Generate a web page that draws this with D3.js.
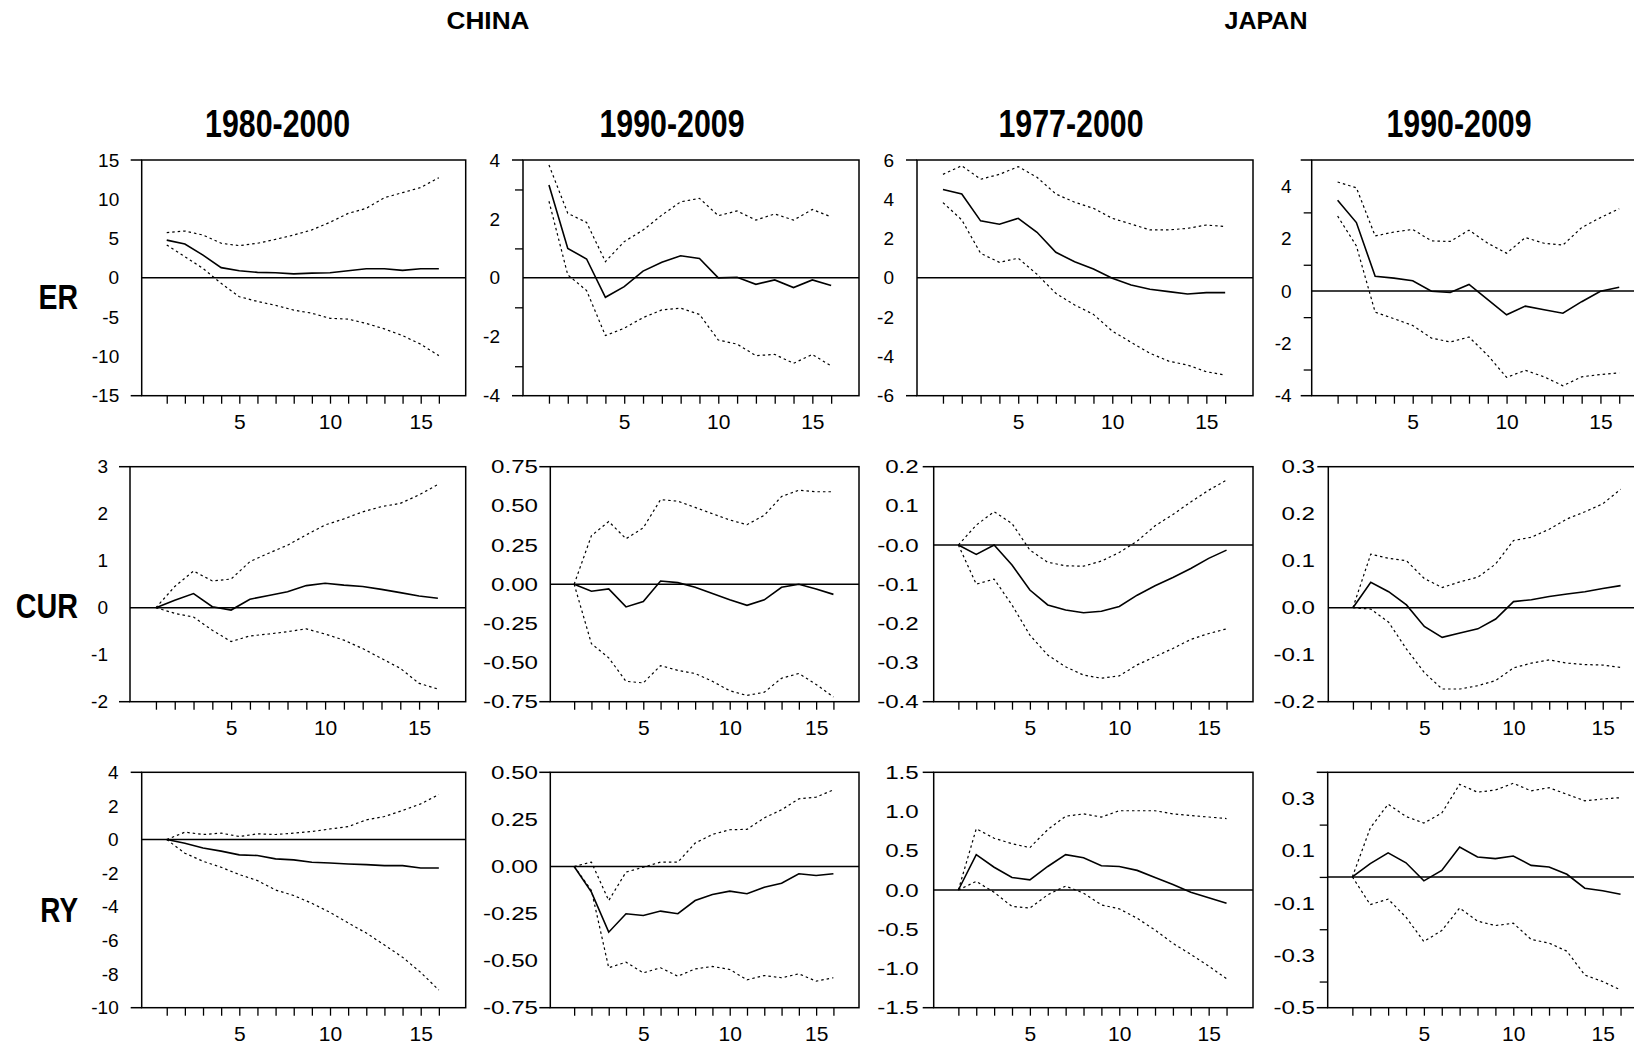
<!DOCTYPE html>
<html><head><meta charset="utf-8">
<script src="https://cdn.jsdelivr.net/npm/d3@7"></script>
<style>body{margin:0;background:#fff}svg{display:block}</style>
</head><body>
<script>
// ---------- DATA ----------
const periods = d3.range(1, 17);
const xLabelValues = [5, 10, 15];
const groupNames = ["CHINA", "JAPAN"];
const sampleTitles = ["1980-2000", "1990-2009", "1977-2000", "1990-2009"];
const rowNames = ["ER", "CUR", "RY"];

// Row ER
const erC1 = [4.8, 4.3, 2.9, 1.3, 0.9, 0.7, 0.65, 0.5, 0.6, 0.65, 0.9, 1.15, 1.15, 0.95, 1.15, 1.15];
const erC1Hi = [5.75, 5.96, 5.45, 4.4, 4.1, 4.4, 4.9, 5.45, 6.1, 7.07, 8.2, 8.85, 10.2, 10.85, 11.5, 12.75];
const erC1Lo = [4.18, 2.7, 1.2, -0.7, -2.4, -3.0, -3.5, -4.1, -4.5, -5.15, -5.25, -5.8, -6.5, -7.35, -8.45, -9.9];
const erC2 = [3.15, 1.0, 0.64, -0.66, -0.3, 0.23, 0.53, 0.75, 0.66, 0.0, 0.02, -0.22, -0.07, -0.33, -0.07, -0.26];
const erC2Hi = [3.83, 2.19, 1.88, 0.55, 1.23, 1.62, 2.13, 2.58, 2.7, 2.11, 2.27, 1.96, 2.17, 1.96, 2.32, 2.07];
const erC2Lo = [2.6, 0.1, -0.43, -1.96, -1.71, -1.35, -1.09, -1.03, -1.24, -2.11, -2.25, -2.64, -2.6, -2.9, -2.6, -2.99];
const erJ1 = [4.5, 4.27, 2.9, 2.73, 3.03, 2.32, 1.3, 0.82, 0.45, -0.02, -0.36, -0.58, -0.7, -0.82, -0.75, -0.75];
const erJ1Hi = [5.27, 5.71, 5.02, 5.27, 5.66, 5.12, 4.27, 3.85, 3.54, 3.03, 2.74, 2.44, 2.44, 2.52, 2.69, 2.61];
const erJ1Lo = [3.83, 2.95, 1.25, 0.79, 1.0, 0.18, -0.79, -1.38, -1.86, -2.71, -3.28, -3.84, -4.24, -4.44, -4.78, -4.95];
const erJ2 = [3.46, 2.61, 0.56, 0.49, 0.39, -0.01, -0.06, 0.25, -0.33, -0.91, -0.58, -0.72, -0.85, -0.41, -0.01, 0.14];
const erJ2Hi = [4.16, 3.94, 2.1, 2.25, 2.35, 1.91, 1.89, 2.32, 1.82, 1.44, 2.04, 1.82, 1.75, 2.42, 2.8, 3.14];
const erJ2Lo = [2.86, 1.72, -0.81, -1.06, -1.32, -1.8, -1.95, -1.76, -2.46, -3.3, -3.03, -3.28, -3.62, -3.28, -3.19, -3.13];

// Row CUR
const curC1 = [0.0, 0.16, 0.3, 0.02, -0.05, 0.18, 0.26, 0.34, 0.47, 0.52, 0.48, 0.45, 0.39, 0.32, 0.25, 0.2];
const curC1Hi = [0.0, 0.45, 0.78, 0.57, 0.61, 0.98, 1.16, 1.33, 1.55, 1.76, 1.89, 2.04, 2.15, 2.22, 2.4, 2.62];
const curC1Lo = [0.0, -0.12, -0.2, -0.48, -0.72, -0.6, -0.56, -0.51, -0.45, -0.56, -0.69, -0.87, -1.08, -1.29, -1.61, -1.73];
const curC2 = [0.0, -0.045, -0.03, -0.145, -0.11, 0.02, 0.01, -0.02, -0.06, -0.1, -0.135, -0.1, -0.02, 0.0, -0.03, -0.065];
const curC2Hi = [0.0, 0.31, 0.4, 0.29, 0.36, 0.54, 0.53, 0.49, 0.45, 0.41, 0.38, 0.44, 0.56, 0.6, 0.59, 0.59];
const curC2Lo = [0.0, -0.38, -0.47, -0.62, -0.63, -0.52, -0.55, -0.57, -0.62, -0.68, -0.71, -0.69, -0.6, -0.57, -0.64, -0.72];
const curJ1 = [0.0, -0.024, 0.0, -0.051, -0.115, -0.153, -0.166, -0.173, -0.169, -0.157, -0.128, -0.104, -0.083, -0.06, -0.034, -0.013];
const curJ1Hi = [0.0, 0.051, 0.085, 0.055, -0.013, -0.044, -0.053, -0.054, -0.041, -0.019, 0.01, 0.049, 0.078, 0.11, 0.14, 0.166];
const curJ1Lo = [0.0, -0.1, -0.087, -0.153, -0.23, -0.281, -0.311, -0.332, -0.34, -0.334, -0.306, -0.285, -0.264, -0.241, -0.226, -0.214];
const curJ2 = [0.0, 0.054, 0.034, 0.006, -0.04, -0.063, -0.054, -0.045, -0.024, 0.013, 0.017, 0.024, 0.029, 0.034, 0.041, 0.047];
const curJ2Hi = [0.0, 0.114, 0.105, 0.1, 0.062, 0.043, 0.055, 0.065, 0.093, 0.143, 0.15, 0.167, 0.189, 0.204, 0.221, 0.252];
const curJ2Lo = [0.0, -0.003, -0.031, -0.088, -0.138, -0.173, -0.173, -0.166, -0.155, -0.128, -0.118, -0.111, -0.118, -0.121, -0.122, -0.127];

// Row RY
const ryC1 = [0.0, -0.22, -0.5, -0.69, -0.91, -0.95, -1.15, -1.21, -1.35, -1.39, -1.45, -1.49, -1.55, -1.55, -1.69, -1.69];
const ryC1Hi = [0.0, 0.44, 0.3, 0.38, 0.18, 0.34, 0.3, 0.38, 0.48, 0.63, 0.77, 1.17, 1.37, 1.73, 2.12, 2.68];
const ryC1Lo = [0.0, -0.81, -1.29, -1.65, -2.08, -2.44, -3.0, -3.33, -3.79, -4.33, -4.96, -5.56, -6.27, -7.0, -7.9, -8.95];
const ryC2 = [0.0, -0.136, -0.349, -0.251, -0.26, -0.237, -0.251, -0.181, -0.149, -0.131, -0.145, -0.11, -0.089, -0.039, -0.048, -0.039];
const ryC2Hi = [0.0, 0.023, -0.181, -0.03, -0.004, 0.023, 0.023, 0.124, 0.17, 0.195, 0.197, 0.258, 0.301, 0.359, 0.368, 0.407];
const ryC2Lo = [0.0, -0.127, -0.538, -0.508, -0.565, -0.538, -0.583, -0.544, -0.531, -0.547, -0.602, -0.579, -0.591, -0.57, -0.609, -0.591];
const ryJ1 = [0.0, 0.45, 0.29, 0.16, 0.13, 0.3, 0.45, 0.41, 0.31, 0.3, 0.25, 0.16, 0.07, -0.03, -0.1, -0.17];
const ryJ1Hi = [0.0, 0.78, 0.66, 0.59, 0.54, 0.77, 0.94, 0.97, 0.93, 1.01, 1.01, 1.01, 0.97, 0.95, 0.93, 0.91];
const ryJ1Lo = [0.0, 0.11, -0.03, -0.21, -0.23, -0.06, 0.05, -0.04, -0.19, -0.24, -0.36, -0.51, -0.68, -0.82, -0.97, -1.13];
const ryJ2 = [0.0, 0.051, 0.092, 0.054, -0.015, 0.025, 0.114, 0.076, 0.07, 0.08, 0.044, 0.038, 0.01, -0.043, -0.053, -0.066];
const ryJ2Hi = [0.0, 0.187, 0.278, 0.231, 0.206, 0.244, 0.354, 0.324, 0.332, 0.358, 0.329, 0.341, 0.316, 0.291, 0.298, 0.303];
const ryJ2Lo = [0.0, -0.106, -0.085, -0.154, -0.247, -0.205, -0.119, -0.169, -0.186, -0.177, -0.239, -0.253, -0.284, -0.375, -0.4, -0.432];

// Y axes: domains, labelled ticks, minor ticks
const yDomains = [[-15, 15], [-4, 4], [-6, 6], [-4, 5],
                  [-2, 3], [-0.75, 0.75], [-0.4, 0.2], [-0.2, 0.3],
                  [-10, 4], [-0.75, 0.5], [-1.5, 1.5], [-0.5, 0.4]];
const yTickLabels = [
  ["-15", "-10", "-5", "0", "5", "10", "15"],
  ["-4", "-2", "0", "2", "4"],
  ["-6", "-4", "-2", "0", "2", "4", "6"],
  ["-4", "-2", "0", "2", "4"],
  ["-2", "-1", "0", "1", "2", "3"],
  ["-0.75", "-0.50", "-0.25", "0.00", "0.25", "0.50", "0.75"],
  ["-0.4", "-0.3", "-0.2", "-0.1", "-0.0", "0.1", "0.2"],
  ["-0.2", "-0.1", "0.0", "0.1", "0.2", "0.3"],
  ["-10", "-8", "-6", "-4", "-2", "0", "2", "4"],
  ["-0.75", "-0.50", "-0.25", "0.00", "0.25", "0.50"],
  ["-1.5", "-1.0", "-0.5", "0.0", "0.5", "1.0", "1.5"],
  ["-0.5", "-0.3", "-0.1", "0.1", "0.3"]
];
const yMinorTicks = [[], [-3, -1, 1, 3], [], [-3, -1, 1, 3],
                     [], [], [], [],
                     [], [], [], [-0.4, -0.2, 0, 0.2]];

const seriesMid = [erC1, erC2, erJ1, erJ2, curC1, curC2, curJ1, curJ2, ryC1, ryC2, ryJ1, ryJ2];
const seriesHi = [erC1Hi, erC2Hi, erJ1Hi, erJ2Hi, curC1Hi, curC2Hi, curJ1Hi, curJ2Hi, ryC1Hi, ryC2Hi, ryJ1Hi, ryJ2Hi];
const seriesLo = [erC1Lo, erC2Lo, erJ1Lo, erJ2Lo, curC1Lo, curC2Lo, curJ1Lo, curJ2Lo, ryC1Lo, ryC2Lo, ryJ1Lo, ryJ2Lo];

// ---------- LAYOUT ----------
const W = 1634, H = 1047;
const rowTop = [160, 466.7, 772.3], rowBot = [395.7, 701.7, 1007.7];
const colRight = [465.7, 859, 1253, 1647];
const axisLeft = [[141.7, 523, 917, 1311.7], [130, 550.3, 933.7, 1328.3], [141.7, 550.3, 933.7, 1327.7]];
const labelGap = [[22.5, 23, 23, 20], [22, 12.3, 15, 13.3], [23, 12.3, 15, 12.7]];
const xDomain = [-0.38, 17.48];
const tickFont = "'Liberation Sans', Arial, sans-serif";

const svg = d3.select("body").append("svg").attr("width", W).attr("height", H)
  .style("background", "#fff");

// group headings
const groupX = [488, 1266];
groupNames.forEach((g, i) => {
  svg.append("text").attr("x", groupX[i]).attr("y", 29).attr("text-anchor", "middle")
    .attr("font-family", tickFont).attr("font-weight", "bold").attr("font-size", 23)
    .attr("textLength", 83).attr("lengthAdjust", "spacingAndGlyphs").text(g);
});
// sample titles
const titleX = [277.6, 672, 1071, 1459];
sampleTitles.forEach((t, i) => {
  svg.append("text").attr("x", titleX[i]).attr("y", 136.5).attr("text-anchor", "middle")
    .attr("font-family", tickFont).attr("font-weight", "bold").attr("font-size", 38)
    .attr("textLength", 145).attr("lengthAdjust", "spacingAndGlyphs").text(t);
});
// row names
const rowLabelY = [309, 617.5, 922.3];
const rowLabelW = [39.5, 62.3, 37.7];
rowNames.forEach((r, i) => {
  svg.append("text").attr("x", 78).attr("y", rowLabelY[i]).attr("text-anchor", "end")
    .attr("font-family", tickFont).attr("font-weight", "bold").attr("font-size", 35)
    .attr("textLength", rowLabelW[i]).attr("lengthAdjust", "spacingAndGlyphs").text(r);
});

for (let r = 0; r < 3; r++) {
  for (let c = 0; c < 4; c++) {
    const k = r * 4 + c;
    const L = axisLeft[r][c], R = colRight[c], T = rowTop[r], B = rowBot[r];
    const x = d3.scaleLinear().domain(xDomain).range([L, R]);
    const y = d3.scaleLinear().domain(yDomains[k]).range([B, T]);
    const g = svg.append("g");

    // x axis ticks
    const xa = d3.axisBottom(x).tickValues(periods).tickSize(8).tickPadding(10)
      .tickFormat(d => xLabelValues.includes(d) ? d : "");
    const gx = g.append("g").attr("transform", `translate(0,${B})`).call(xa);
    gx.select(".domain").remove();
    gx.selectAll("line").attr("stroke", "#000").attr("stroke-width", 1.3);
    gx.selectAll("text").attr("font-family", tickFont).attr("font-size", 21).attr("fill", "#000");

    // y axis labels
    const ya = d3.axisLeft(y).tickValues(yTickLabels[k].map(Number)).tickSize(0)
      .tickPadding(labelGap[r][c]).tickFormat((d, i) => yTickLabels[k][i]);
    const gy = g.append("g").attr("transform", `translate(${L},0)`).call(ya);
    gy.select(".domain").remove();
    gy.selectAll("text").attr("font-family", tickFont).attr("font-size", 19).attr("fill", "#000")
      .each(function() {
        const t = d3.select(this);
        if (t.text().includes(".")) {
          const w = this.getComputedTextLength();
          t.attr("textLength", w * 1.27).attr("lengthAdjust", "spacingAndGlyphs");
        }
      });

    // minor ticks
    const ym = d3.axisLeft(y).tickValues(yMinorTicks[k]).tickSize(8).tickFormat("");
    const gm = g.append("g").attr("transform", `translate(${L},0)`).call(ym);
    gm.select(".domain").remove();
    gm.selectAll("line").attr("stroke", "#000").attr("stroke-width", 1.3);

    // top/bottom extension ticks
    [T, B].forEach(yy => g.append("line").attr("x1", L - 11).attr("x2", L)
      .attr("y1", yy).attr("y2", yy).attr("stroke", "#000").attr("stroke-width", 1.5));

    // frame
    g.append("rect").attr("x", L).attr("y", T).attr("width", R - L).attr("height", B - T)
      .attr("fill", "none").attr("stroke", "#000").attr("stroke-width", 1.5);

    // zero line
    g.append("line").attr("x1", L).attr("x2", R).attr("y1", y(0)).attr("y2", y(0))
      .attr("stroke", "#000").attr("stroke-width", 1.5);

    const line = d3.line().x((d, i) => x(periods[i])).y(d => y(d));
    g.append("path").attr("d", line(seriesHi[k])).attr("fill", "none")
      .attr("stroke", "#000").attr("stroke-width", 1.2).attr("stroke-dasharray", "2.5,3");
    g.append("path").attr("d", line(seriesLo[k])).attr("fill", "none")
      .attr("stroke", "#000").attr("stroke-width", 1.2).attr("stroke-dasharray", "2.5,3");
    g.append("path").attr("d", line(seriesMid[k])).attr("fill", "none")
      .attr("stroke", "#000").attr("stroke-width", 1.6);
  }
}
</script>
</body></html>
